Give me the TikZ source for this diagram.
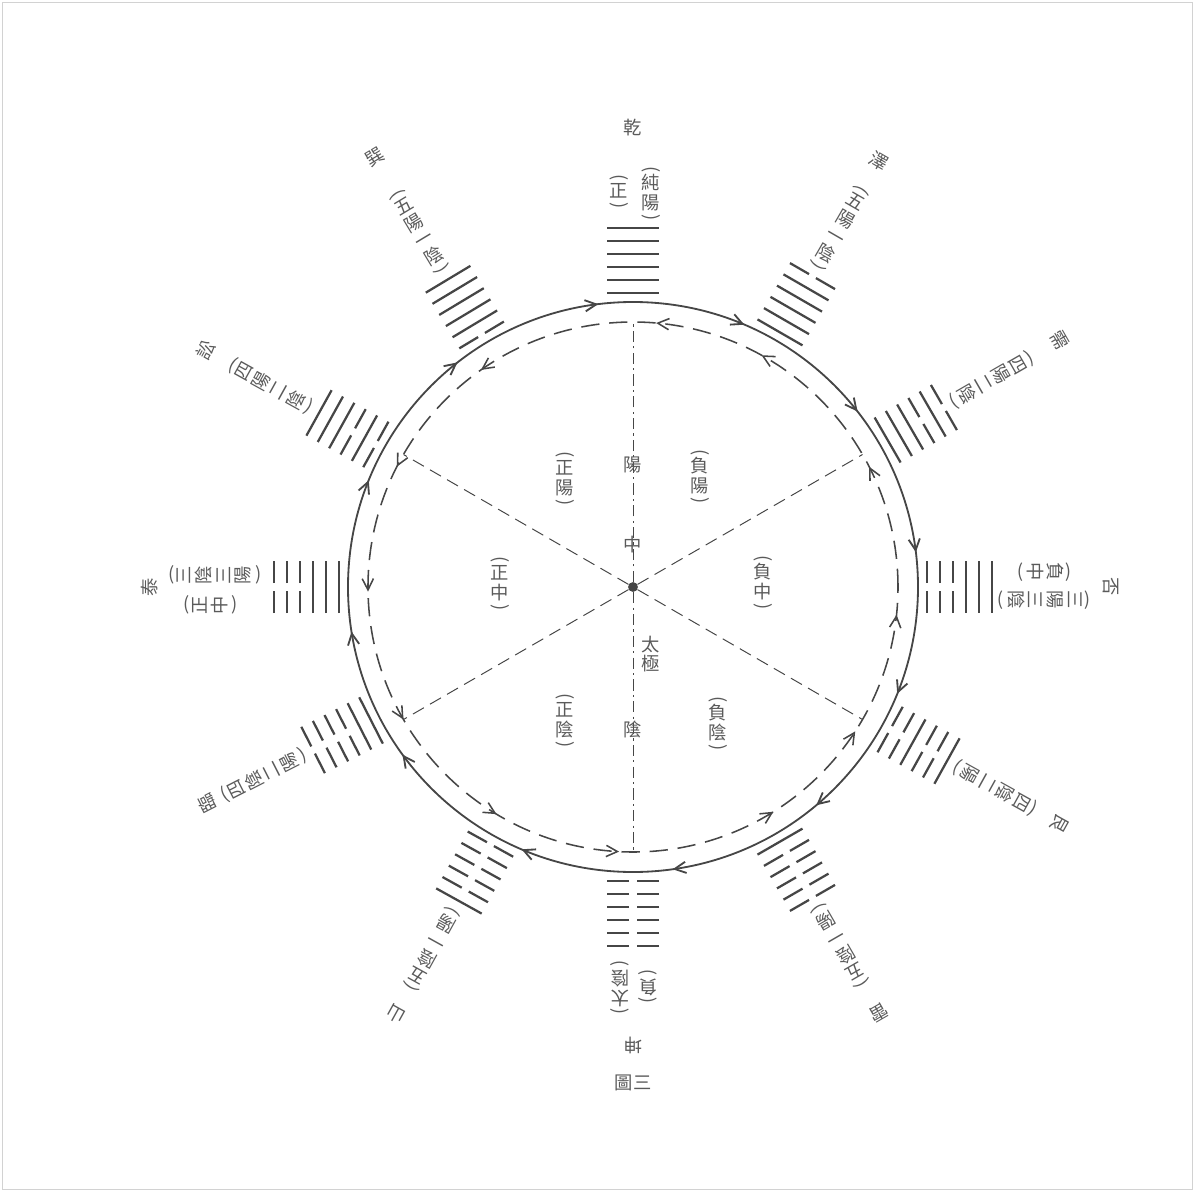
\documentclass[tikz,border=0pt]{standalone}
\usepackage{fontspec}
\usepackage{graphicx}
\usepackage{tikz}
\usetikzlibrary{arrows.meta}
\newfontfamily\cjk{Noto Sans CJK TC}
\definecolor{ink}{HTML}{464646}
\definecolor{txt}{HTML}{5A5A5A}
\newcommand\vpl{\rotatebox[origin=c]{-90}{(}\\[-4pt]}
\newcommand\vpr{\\[-4pt]\rotatebox[origin=c]{-90}{)}}

\begin{document}
\begin{tikzpicture}[x=0.025cm,y=0.025cm,
 every node/.style={inner sep=0pt,align=center,text=txt,font=\cjk\fontsize{13}{14}\selectfont},
 rim/.style={ink,line width=1.3pt},
 ring/.style={ink,line width=1.1pt,dash pattern=on 13pt off 7pt},
 spoke/.style={ink,line width=0.7pt,dash pattern=on 9pt off 5pt},
 axis/.style={ink,line width=0.7pt,dash pattern=on 8pt off 3pt on 1.5pt off 3pt},
 yao/.style={ink,line width=1.6pt},
 barb/.style={ink,dash pattern=on 0pt off 400pt,-{Straight Barb[length=8pt,width=8pt]}}]
\useasboundingbox (-633,-604) rectangle (561,587);
\draw[gray!35,line width=0.6pt] (-631,-602) rectangle (559,585);
\draw[rim] (0,0) circle[radius=285];
\draw[ring] (0,0) circle[radius=265];
\node[circle,fill=ink,minimum size=7pt] (taiji) at (0,0) {};
\coordinate (top) at (90:265);
\coordinate (bot) at (-90:265);
\draw[axis] (taiji) -- (top) (taiji) -- (bot);
\foreach \t [count=\j] in {30,-30,-150,150} {
 \coordinate (s\j) at (\t:265);
 \draw[spoke] (taiji) -- (s\j);
}
\foreach \t in {97,67,38,7,-22,-50,-82,-113,-144,-171,158,128}
 \draw[barb,line width=1.3pt] (\t+3:285) arc[start angle=\t+3,end angle=\t,radius=285];
\foreach \t in {85,61,27,-6,-33,-58,-93,-121,-150,181,153,125}
 \draw[barb,line width=1.1pt] (\t-3:265) arc[start angle=\t-3,end angle=\t,radius=265];

\foreach \ang/\hx/\ttl/\tr/\lab/\lr/\lx [count=\k] in {
 90/{1,1,1,1,1,1}/乾/459/{\vpl 純\\陽\vpr}/392/18,
 60/{1,1,1,1,1,0}/澤/492/{\vpl 五\\陽\\一\\陰\vpr}/413/0,
 30/{1,1,1,0,1,0}/需/493/{\vpl 四\\陽\\二\\陰\vpr}/413/0,
 0/{0,0,0,1,1,1}/否/478/{\vpl 三\\陽\\三\\陰\vpr}/410/13,
 -29/{0,0,1,0,0,1}/艮/488/{\vpl 四\\陰\\二\\陽\vpr}/413/0,
 -60/{1,0,0,0,0,0}/雷/492/{\vpl 五\\陰\\一\\陽\vpr}/413/0,
 -90/{0,0,0,0,0,0}/坤/458/{\vpl 太\\陰\vpr}/399/13,
 -119/{0,0,0,0,0,1}/山/488/{\vpl 五\\陰\\一\\陽\vpr}/413/0,
 -153/{1,1,0,0,0,0}/臨/478/{\vpl 四\\陰\\二\\陽\vpr}/413/0,
 180/{1,1,1,0,0,0}/泰/483/{\vpl 三\\陰\\三\\陽\vpr}/417/12,
 151/{0,1,0,1,1,1}/訟/488/{\vpl 四\\陽\\二\\陰\vpr}/413/0,
 121/{0,1,1,1,1,1}/巽/502/{\vpl 五\\陽\\一\\陰\vpr}/413/0}
{
 \begin{scope}[rotate=\ang-90]
  \foreach \yy [count=\i] in \hx {
   \pgfmathsetmacro\rr{294+13*(\i-1)}
   \ifnum\yy=1 \draw[yao] (-26,\rr) -- (26,\rr);
   \else \draw[yao] (-26,\rr) -- (-4,\rr) (4,\rr) -- (26,\rr); \fi
  }
  \node[rotate=\ang-90] (lab\k) at (\lx,\lr) {\lab};
  \node[rotate=\ang-90] (gua\k) at (0,\tr) {\ttl};
 \end{scope}
}
\node (zheng) at (-14,394) {\vpl 正\vpr};
\node[rotate=-90] (fuzhong) at (410,15) {\vpl 負\\中\vpr};
\node[rotate=180] (fu) at (15,-398) {\vpl 負\vpr};
\node[rotate=90] (zhengzhong) at (-421,-18) {\vpl 正\\中\vpr};

\node (yang) at (0,122) {陽};
\node (zhong) at (0,42) {中};
\node (tj) at (18,-67) {太\\極};
\node (yin) at (0,-143) {陰};
\node (zy) at (-68,107) {\vpl 正\\陽\vpr};
\node (fy) at (67,109) {\vpl 負\\陽\vpr};
\node (zz) at (-133,2) {\vpl 正\\中\vpr};
\node (fz) at (130,3) {\vpl 負\\中\vpr};
\node (zyin) at (-68,-135) {\vpl 正\\陰\vpr};
\node (fyin) at (85,-138) {\vpl 負\\陰\vpr};
\node (cap) at (0,-496) {圖三};
\end{tikzpicture}
\end{document}
